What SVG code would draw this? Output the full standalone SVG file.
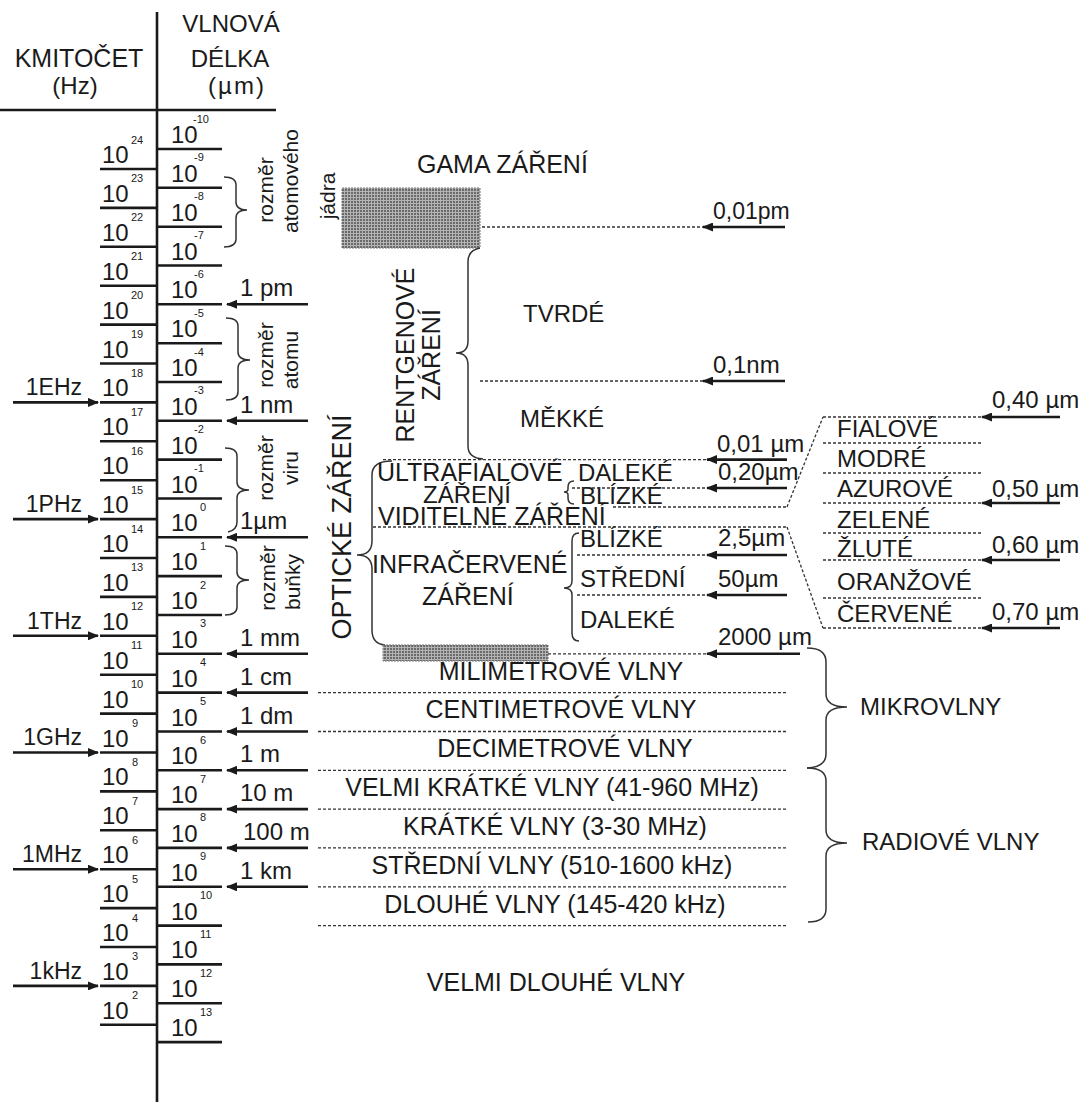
<svg xmlns="http://www.w3.org/2000/svg" width="1089" height="1102" viewBox="0 0 1089 1102">
<style>
text{font-family:"Liberation Sans",Arial,Helvetica,sans-serif;fill:#1a1a1a}
.f24{font-size:24px}
.f25{font-size:25px}
.f27{font-size:27px}
.f23{font-size:23px}
.f21{font-size:21px}
.ex{font-size:11px}
.m{text-anchor:middle}
.e{text-anchor:end}
.tick{stroke:#1a1a1a;stroke-width:2.6;fill:none}
.dot{stroke:#333;stroke-width:1.3;stroke-dasharray:3 2;fill:none}
.arr{stroke:#1a1a1a;stroke-width:2.6;fill:none;marker-end:url(#ah)}
.brace{stroke:#333;stroke-width:1.5;fill:none}
.shade{fill:url(#ht);stroke:#777;stroke-width:1;stroke-dasharray:2 1}
</style>
<defs>
<marker id="ah" viewBox="0 0 11 9" refX="10" refY="4.5" markerWidth="11" markerHeight="9" markerUnits="userSpaceOnUse" orient="auto"><path d="M0,0 L11,4.5 L0,9 z" fill="#1a1a1a"/></marker>
<pattern id="ht" width="3" height="3" patternUnits="userSpaceOnUse"><rect width="3" height="3" fill="#b4b4b4"/><rect width="2" height="2" fill="#6a6a6a"/></pattern>
</defs>
<rect width="1089" height="1102" fill="#fff"/>

<g id="header">
<path class="tick" d="M157 12V1102M0 110H276"/>
<text class="f25 m" x="79" y="67">KMITOČET</text>
<text class="f24 m" x="75" y="94">(Hz)</text>
<text class="f24 m" x="231" y="32">VLNOVÁ</text>
<text class="f24 m" x="230" y="67">DÉLKA</text>
<text class="f24 m" x="237" y="94" letter-spacing="2">(µm)</text>
</g>

<g id="frequency-scale">
<path class="tick" d="M100 169H157M100 207.9H157M100 246.8H157M100 285.7H157M100 324.6H157M100 363.5H157M100 402.4H157M100 441.3H157M100 480.2H157M100 519.1H157M100 558H157M100 596.9H157M100 635.8H157M100 674.7H157M100 713.6H157M100 752.5H157M100 791.4H157M100 830.3H157M100 869.2H157M100 908.1H157M100 947H157M100 985.9H157M100 1024.8H157"/>
<g class="f24">
<text x="102" y="163">10</text><text x="102" y="201.9">10</text><text x="102" y="240.8">10</text><text x="102" y="279.7">10</text><text x="102" y="318.6">10</text><text x="102" y="357.5">10</text><text x="102" y="396.4">10</text><text x="102" y="435.3">10</text><text x="102" y="474.2">10</text><text x="102" y="513.1">10</text><text x="102" y="552">10</text><text x="102" y="590.9">10</text><text x="102" y="629.8">10</text><text x="102" y="668.7">10</text><text x="102" y="707.6">10</text><text x="102" y="746.5">10</text><text x="102" y="785.4">10</text><text x="102" y="824.3">10</text><text x="102" y="863.2">10</text><text x="102" y="902.1">10</text><text x="102" y="941">10</text><text x="102" y="979.9">10</text><text x="102" y="1018.8">10</text>
</g>
<g class="ex">
<text x="131" y="143.5">24</text><text x="131" y="182.4">23</text><text x="131" y="221.3">22</text><text x="131" y="260.2">21</text><text x="131" y="299.1">20</text><text x="131" y="338">19</text><text x="131" y="376.9">18</text><text x="131" y="415.8">17</text><text x="131" y="454.7">16</text><text x="131" y="493.6">15</text><text x="131" y="532.5">14</text><text x="131" y="571.4">13</text><text x="131" y="610.3">12</text><text x="131" y="649.2">11</text><text x="131" y="688.1">10</text><text x="132" y="727">9</text><text x="132" y="765.9">8</text><text x="132" y="804.8">7</text><text x="132" y="843.7">6</text><text x="132" y="882.6">5</text><text x="132" y="921.5">4</text><text x="132" y="960.4">3</text><text x="132" y="999.3">2</text>
</g>
<g class="f23 e">
<text x="82" y="395">1EHz</text><text x="82" y="512">1PHz</text><text x="82" y="629">1THz</text><text x="82" y="745">1GHz</text><text x="82" y="862">1MHz</text><text x="82" y="979">1kHz</text>
</g>
</g>

<g id="wavelength-scale">
<path class="tick" d="M157 149H222M157 187.8H222M157 226.7H222M157 265.5H222M157 304.3H222M157 343.2H222M157 382H222M157 420.8H222M157 459.6H222M157 498.5H222M157 537.3H222M157 576.1H222M157 615H222M157 653.8H222M157 692.6H222M157 731.5H222M157 770.3H222M157 809.1H222M157 847.9H222M157 886.8H222M157 925.6H222M157 964.4H222M157 1003.3H222M157 1042.1H222"/>
<g class="f24">
<text x="171" y="143">10</text><text x="171" y="181.8">10</text><text x="171" y="220.7">10</text><text x="171" y="259.5">10</text><text x="171" y="298.3">10</text><text x="171" y="337.2">10</text><text x="171" y="376">10</text><text x="171" y="414.8">10</text><text x="171" y="453.6">10</text><text x="171" y="492.5">10</text><text x="171" y="531.3">10</text><text x="171" y="570.1">10</text><text x="171" y="609">10</text><text x="171" y="647.8">10</text><text x="171" y="686.6">10</text><text x="171" y="725.5">10</text><text x="171" y="764.3">10</text><text x="171" y="803.1">10</text><text x="171" y="841.9">10</text><text x="171" y="880.8">10</text><text x="171" y="919.6">10</text><text x="171" y="958.4">10</text><text x="171" y="997.3">10</text><text x="171" y="1036.1">10</text>
</g>
<g class="ex">
<text x="193" y="122.5">-10</text><text x="194" y="161.3">-9</text><text x="194" y="200.2">-8</text><text x="194" y="239">-7</text><text x="194" y="277.8">-6</text><text x="194" y="316.7">-5</text><text x="194" y="355.5">-4</text><text x="194" y="394.3">-3</text><text x="194" y="433.1">-2</text><text x="194" y="472">-1</text><text x="200" y="510.8">0</text><text x="200" y="549.6">1</text><text x="200" y="588.5">2</text><text x="200" y="627.3">3</text><text x="200" y="666.1">4</text><text x="200" y="705">5</text><text x="200" y="743.8">6</text><text x="200" y="782.6">7</text><text x="200" y="821.4">8</text><text x="200" y="860.3">9</text><text x="200" y="899.1">10</text><text x="200" y="937.9">11</text><text x="200" y="976.8">12</text><text x="200" y="1015.6">13</text>
</g>
<g class="f24">
<text x="240" y="296">1 pm</text><text x="240" y="413">1 nm</text><text x="240" y="529">1µm</text><text x="240" y="646">1 mm</text><text x="240" y="685">1 cm</text><text x="240" y="724">1 dm</text><text x="240" y="762">1 m</text><text x="240" y="801">10 m</text><text x="243" y="840">100 m</text><text x="240" y="879">1 km</text>
</g>
</g>

<g id="size-nucleus">
<path class="brace" d="M224 177Q236 177 236 185L236 202Q236 210 247 210Q236 210 236 218L236 239Q236 247 224 247"/>
<text class="f21 m" transform="translate(273,190) rotate(-90)">rozměr</text>
<text class="f21 m" transform="translate(298,181) rotate(-90)">atomového</text>
<text class="f21 m" transform="translate(335,196) rotate(-90)">jádra</text>
</g>
<g id="size-atom">
<path class="brace" d="M226 318Q238 318 238 326L238 352Q238 360 250 360Q238 360 238 368L238 392Q238 400 226 400"/>
<text class="f21 m" transform="translate(273,355) rotate(-90)">rozměr</text>
<text class="f21 m" transform="translate(298,360) rotate(-90)">atomu</text>
</g>
<g id="size-virus">
<path class="brace" d="M225 448Q237 448 237 456L237 482Q237 490 249 490Q237 490 237 498L237 522Q237 530 228 532"/>
<text class="f21 m" transform="translate(273,468) rotate(-90)">rozměr</text>
<text class="f21 m" transform="translate(298,468) rotate(-90)">viru</text>
</g>
<g id="size-cell">
<path class="brace" d="M225 546Q237 546 237 554L237 572Q237 580 249 580Q237 580 237 588L237 607Q237 615 225 615"/>
<text class="f21 m" transform="translate(275,578) rotate(-90)">rozměr</text>
<text class="f21 m" transform="translate(300,582) rotate(-90)">buňky</text>
</g>

<g id="gamma">
<rect class="shade" x="342" y="188" width="138" height="60"/>
<text class="f25" x="417" y="173">GAMA ZÁŘENÍ</text>
<text class="f23" x="713" y="219">0,01pm</text>
</g>

<g id="xray">
<path class="brace" d="M480 248Q468 250 468 262L468 341Q468 353 456 353Q468 353 468 365L468 446Q468 458 483 459"/>
<text class="f25 m" transform="translate(414,355) rotate(-90)">RENTGENOVÉ</text>
<text class="f25 m" transform="translate(440,355) rotate(-90)">ZÁŘENÍ</text>
<text class="f24" x="523" y="322">TVRDÉ</text>
<text class="f24" x="520" y="427">MĚKKÉ</text>
<text class="f24" x="713" y="373">0,1nm</text>
</g>

<g id="optical">
<path class="brace" d="M392 461Q372 461 372 475L372 541Q372 555 357 555Q372 555 372 569L372 630Q372 644 385 645"/>
<text class="f27 m" transform="translate(351,527) rotate(-90)">OPTICKÉ ZÁŘENÍ</text>
<rect class="shade" x="383" y="645" width="165" height="16"/>
</g>

<g id="ultraviolet">
<path class="brace" d="M574 481Q568 481 568 487L568 489Q568 492 564 492Q568 492 568 495L568 498Q568 504 574 504"/>
<text class="f25" x="377" y="481">ULTRAFIALOVÉ</text>
<text class="f24" x="423" y="503">ZÁŘENÍ</text>
<text class="f24" x="578" y="481">DALEKÉ</text>
<text class="f24" x="580" y="504">BLÍZKÉ</text>
<text class="f24" x="717" y="452">0,01 µm</text>
<text class="f24" x="718" y="480">0,20µm</text>
</g>

<g id="visible">
<text class="f25" x="378" y="525">VIDITELNÉ ZÁŘENÍ</text>
</g>

<g id="infrared">
<path class="brace" d="M579 533Q572 533 572 541L572 581Q572 588 564 588Q572 588 572 595L572 633Q572 641 579 641"/>
<text class="f25" x="372" y="573">INFRAČERVENÉ</text>
<text class="f25" x="422" y="605">ZÁŘENÍ</text>
<text class="f24" x="580" y="547">BLÍZKÉ</text>
<text class="f24" x="580" y="587">STŘEDNÍ</text>
<text class="f24" x="580" y="628">DALEKÉ</text>
<text class="f24" x="718" y="546">2,5µm</text>
<text class="f24" x="718" y="587">50µm</text>
<text class="f24" x="718" y="645">2000 µm</text>
</g>

<g id="colours">
<text class="f24" x="837" y="437">FIALOVÉ</text>
<text class="f24" x="837" y="467">MODRÉ</text>
<text class="f24" x="837" y="497">AZUROVÉ</text>
<text class="f24" x="837" y="528">ZELENÉ</text>
<text class="f24" x="837" y="557">ŽLUTÉ</text>
<text class="f24" x="837" y="590">ORANŽOVÉ</text>
<text class="f24" x="837" y="622">ČERVENÉ</text>
<text class="f24" x="992" y="408">0,40 µm</text>
<text class="f24" x="992" y="497">0,50 µm</text>
<text class="f24" x="992" y="553">0,60 µm</text>
<text class="f24" x="992" y="620">0,70 µm</text>
</g>

<g id="radio-bands">
<text class="f25 m" x="561" y="680">MILIMETROVÉ VLNY</text>
<text class="f25 m" x="561" y="718">CENTIMETROVÉ VLNY</text>
<text class="f25 m" x="565" y="757">DECIMETROVÉ VLNY</text>
<text class="f25 m" x="552" y="796">VELMI KRÁTKÉ VLNY (41-960 MHz)</text>
<text class="f25 m" x="555" y="835">KRÁTKÉ VLNY (3-30 MHz)</text>
<text class="f25 m" x="552" y="874">STŘEDNÍ VLNY (510-1600 kHz)</text>
<text class="f25 m" x="555" y="913">DLOUHÉ VLNY (145-420 kHz)</text>
<text class="f25 m" x="556" y="991">VELMI DLOUHÉ VLNY</text>
</g>

<g id="microwaves">
<path class="brace" d="M807 648Q826 648 826 662L826 694Q826 707 847 707Q826 707 826 720L826 754Q826 767 807 768"/>
<text class="f24" x="860" y="715">MIKROVLNY</text>
</g>
<g id="radio-waves">
<path class="brace" d="M807 768Q826 768 826 781L826 830Q826 843 847 843Q826 843 826 856L826 909Q826 922 808 922"/>
<text class="f24" x="862" y="850">RADIOVÉ VLNY</text>
</g>

<g id="connectors">
<line class="arr" x1="13" y1="402.4" x2="98" y2="402.4"/>
<line class="arr" x1="13" y1="519.1" x2="98" y2="519.1"/>
<line class="arr" x1="13" y1="635.8" x2="98" y2="635.8"/>
<line class="arr" x1="13" y1="752.5" x2="98" y2="752.5"/>
<line class="arr" x1="13" y1="869.2" x2="98" y2="869.2"/>
<line class="arr" x1="13" y1="985.9" x2="98" y2="985.9"/>
<line class="arr" x1="308" y1="304.3" x2="227" y2="304.3"/>
<line class="arr" x1="308" y1="420.8" x2="227" y2="420.8"/>
<line class="arr" x1="308" y1="537.3" x2="227" y2="537.3"/>
<line class="arr" x1="308" y1="653.8" x2="227" y2="653.8"/>
<line class="arr" x1="308" y1="692.6" x2="227" y2="692.6"/>
<line class="arr" x1="308" y1="731.5" x2="227" y2="731.5"/>
<line class="arr" x1="308" y1="770.3" x2="227" y2="770.3"/>
<line class="arr" x1="308" y1="809.1" x2="227" y2="809.1"/>
<line class="arr" x1="308" y1="847.9" x2="227" y2="847.9"/>
<line class="arr" x1="308" y1="886.8" x2="227" y2="886.8"/>
<line class="arr" x1="785" y1="227" x2="703" y2="227"/>
<line class="arr" x1="785" y1="381" x2="703" y2="381"/>
<line class="arr" x1="787" y1="459.6" x2="707" y2="459.6"/>
<line class="arr" x1="787" y1="488" x2="707" y2="488"/>
<line class="arr" x1="787" y1="555" x2="707" y2="555"/>
<line class="arr" x1="787" y1="595" x2="707" y2="595"/>
<line class="arr" x1="800" y1="653.8" x2="707" y2="653.8"/>
<line class="arr" x1="1060" y1="417" x2="982" y2="417"/>
<line class="arr" x1="1060" y1="503" x2="982" y2="503"/>
<line class="arr" x1="1060" y1="560" x2="982" y2="560"/>
<line class="arr" x1="1060" y1="628" x2="982" y2="628"/>
<path class="dot" d="M482 227H703M480 381H703M383 459.6H707M572 488H707M613 507H787M373 527H787M577 555H707M577 595H707M548 653.8H707"/>
<path class="dot" d="M318 692.6H786M318 731.5H786M318 770.3H786M318 809.1H786M318 847.9H786M318 886.8H786M318 925.6H786"/>
<path class="dot" d="M787 507L823 417M787 527L823 628"/>
<path class="dot" d="M823 417H982M823 443H982M823 473H982M823 503H982M823 533H982M823 560H982M823 598H982M823 628H982"/>
</g>
</svg>
